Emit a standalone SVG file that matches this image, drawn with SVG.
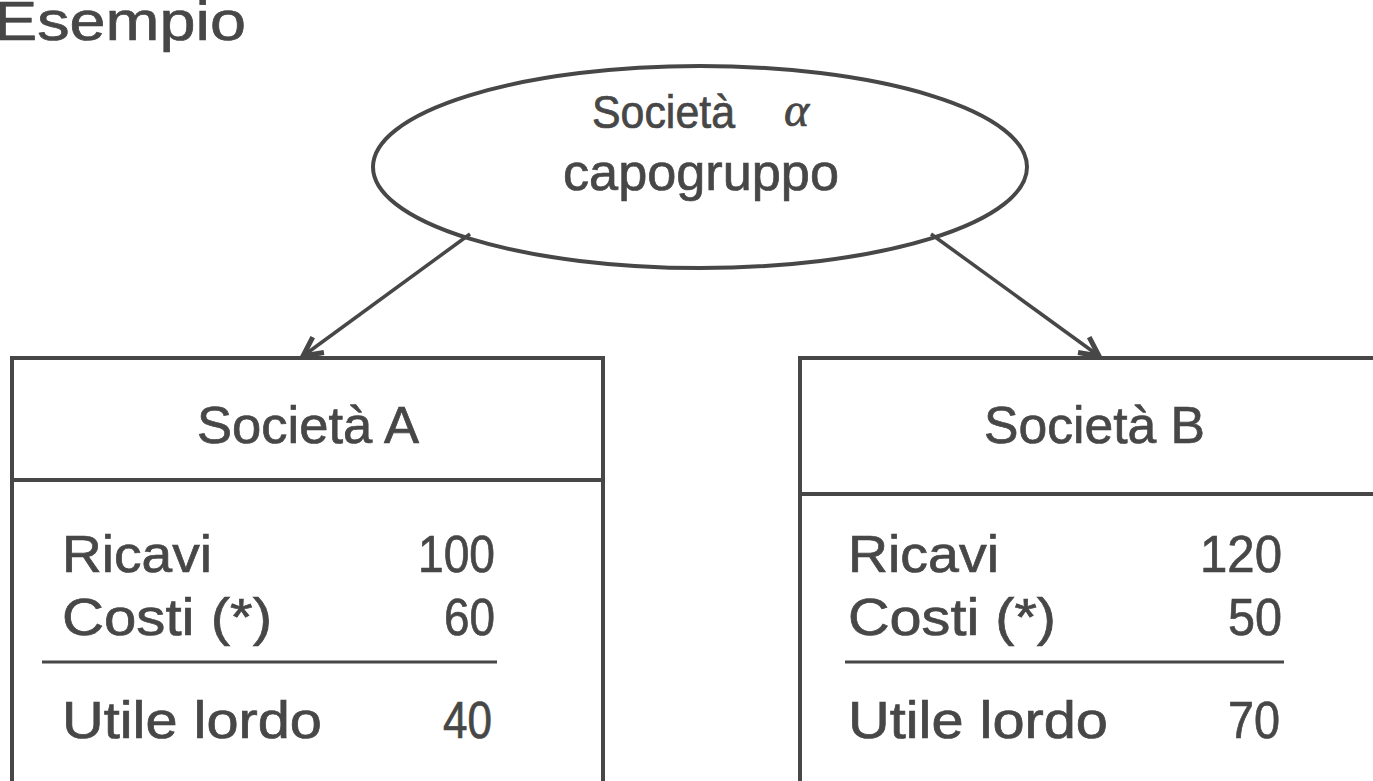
<svg xmlns="http://www.w3.org/2000/svg" width="1373" height="781" viewBox="0 0 1373 781">
<style>
.t{font-family:"Liberation Sans",Arial,sans-serif;fill:#474747;stroke:#474747;stroke-width:0.7;}
.s{fill:none;stroke:#474747;stroke-width:4;}
.c{fill:none;stroke:#474747;stroke-width:3.5;}
.r{stroke:#474747;stroke-width:3;}
</style>
<defs>
<marker id="ah" markerUnits="userSpaceOnUse" markerWidth="44" markerHeight="44" refX="21" refY="11" orient="auto" viewBox="0 0 44 22">
<path d="M2,1.5 L21,11 L2,20.5" fill="none" stroke="#474747" stroke-width="5"/>
</marker>
</defs>
<rect width="1373" height="781" fill="#ffffff"/>
<text class="t" x="-6" y="40" font-size="56" textLength="252" lengthAdjust="spacingAndGlyphs">Esempio</text>
<g id="connectors">
<line class="c" x1="470" y1="234" x2="303" y2="356" marker-end="url(#ah)"/>
<line class="c" x1="931" y1="234" x2="1099" y2="356" marker-end="url(#ah)"/>
</g>
<g id="capogruppo">
<ellipse class="s" cx="700" cy="167" rx="327" ry="101"/>
<text class="t" x="592" y="128" font-size="46" textLength="143" lengthAdjust="spacingAndGlyphs">Società</text>
<text x="784" y="126" font-size="48" font-style="italic" style="font-family:'Liberation Serif','Times New Roman',serif;fill:#474747;stroke:#474747;stroke-width:0.7">α</text>
<text class="t" x="563" y="190" font-size="52" textLength="276" lengthAdjust="spacingAndGlyphs">capogruppo</text>
</g>
<g id="societaA">
<path class="s" d="M12,790 V358 H603 V790"/>
<line class="s" x1="12" y1="480" x2="603" y2="480"/>
<text class="t" x="197" y="443" font-size="52" textLength="222" lengthAdjust="spacingAndGlyphs">Società A</text>
<text class="t" x="62" y="572" font-size="52" textLength="150" lengthAdjust="spacingAndGlyphs">Ricavi</text>
<text class="t" x="495" y="572" font-size="52" text-anchor="end" textLength="77" lengthAdjust="spacingAndGlyphs">100</text>
<text class="t" x="62" y="635" font-size="52" textLength="210" lengthAdjust="spacingAndGlyphs">Costi  (*)</text>
<text class="t" x="495" y="635" font-size="52" text-anchor="end" textLength="51" lengthAdjust="spacingAndGlyphs">60</text>
<line class="r" x1="42" y1="662" x2="497" y2="662"/>
<text class="t" x="62" y="738" font-size="52" textLength="260" lengthAdjust="spacingAndGlyphs">Utile lordo</text>
<text class="t" x="492" y="738" font-size="52" text-anchor="end" textLength="49" lengthAdjust="spacingAndGlyphs">40</text>
</g>
<g id="societaB">
<path class="s" d="M800,790 V358 H1380"/>
<line class="s" x1="800" y1="494" x2="1380" y2="494"/>
<text class="t" x="984" y="443" font-size="52" textLength="221" lengthAdjust="spacingAndGlyphs">Società B</text>
<text class="t" x="848" y="572" font-size="52" textLength="151" lengthAdjust="spacingAndGlyphs">Ricavi</text>
<text class="t" x="1282" y="572" font-size="52" text-anchor="end" textLength="82" lengthAdjust="spacingAndGlyphs">120</text>
<text class="t" x="848" y="635" font-size="52" textLength="208" lengthAdjust="spacingAndGlyphs">Costi  (*)</text>
<text class="t" x="1282" y="635" font-size="52" text-anchor="end" textLength="54" lengthAdjust="spacingAndGlyphs">50</text>
<line class="r" x1="845" y1="662" x2="1284" y2="662"/>
<text class="t" x="848" y="738" font-size="52" textLength="260" lengthAdjust="spacingAndGlyphs">Utile lordo</text>
<text class="t" x="1280" y="738" font-size="52" text-anchor="end" textLength="52" lengthAdjust="spacingAndGlyphs">70</text>
</g>
</svg>
